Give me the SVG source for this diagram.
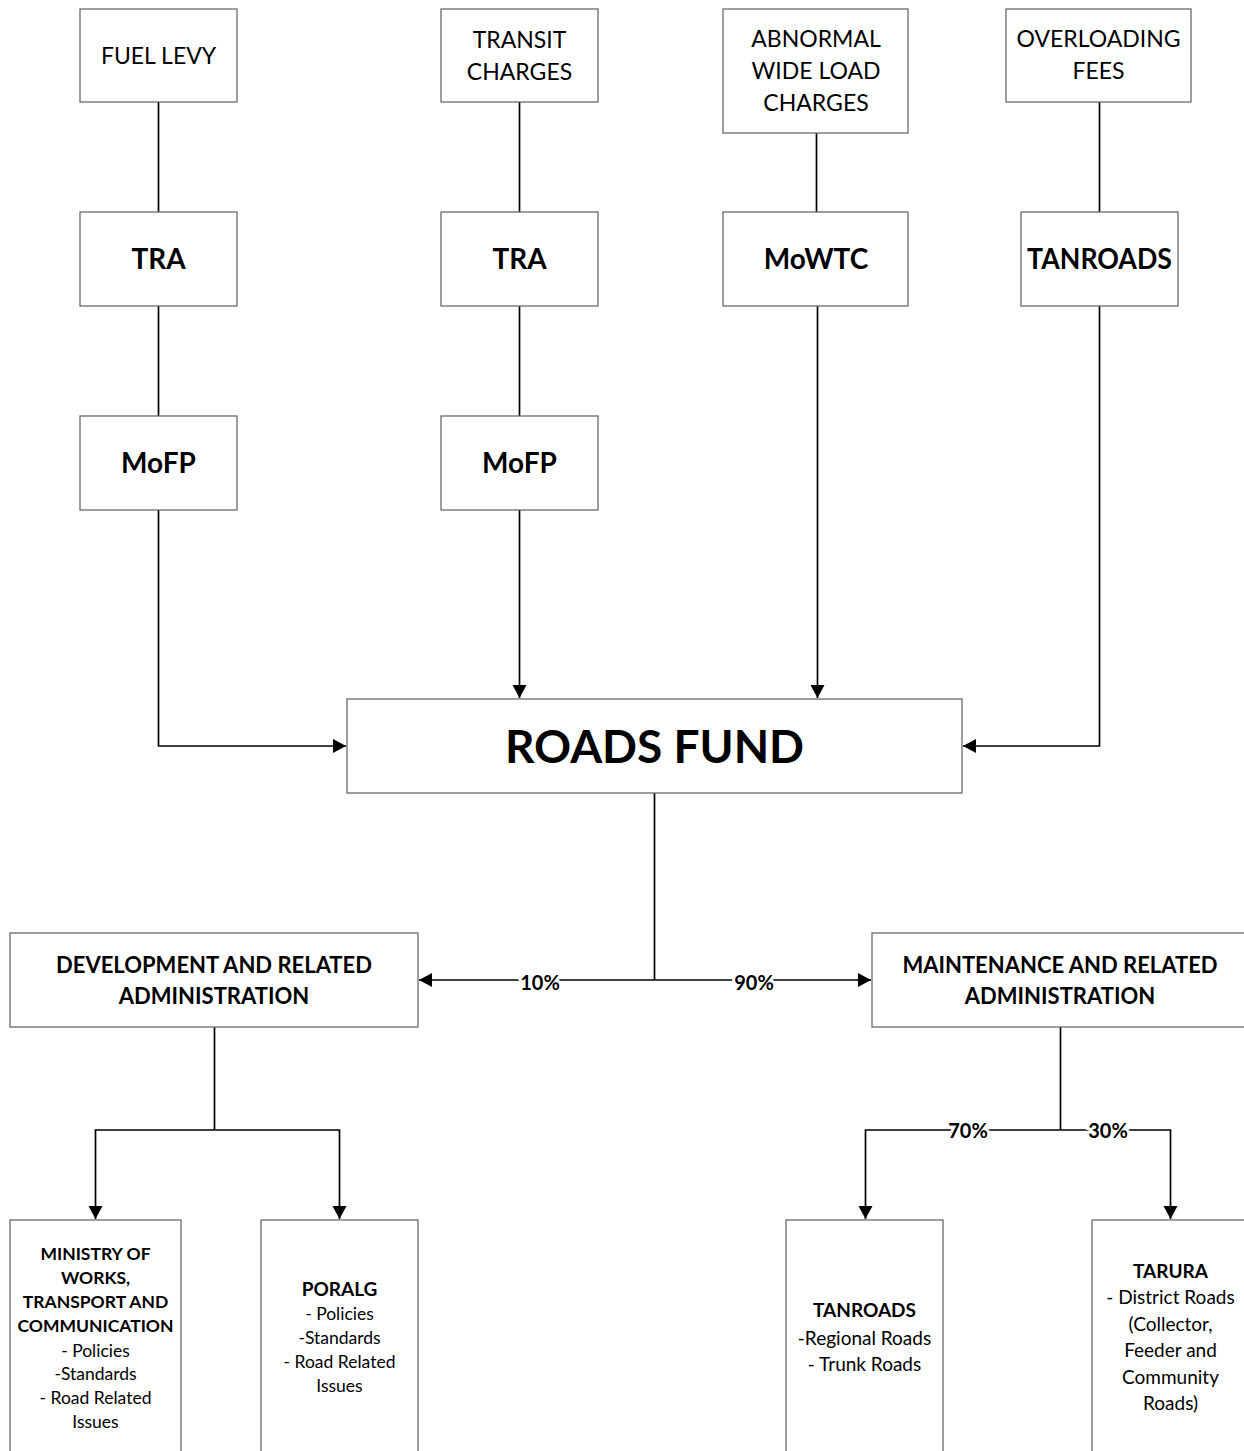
<svg xmlns="http://www.w3.org/2000/svg" width="1244" height="1451" viewBox="0 0 1244 1451">
<style>
.box{fill:#fff;stroke:#6a6a6a;stroke-width:1.3}
.ln{fill:none;stroke:#000;stroke-width:1.7}
text{font-family:Lato,"Open Sans","Liberation Sans",sans-serif;fill:#000;text-anchor:middle}
.r{font-size:23px}
.b{font-size:28px;font-weight:bold}
.big{font-size:46px;font-weight:bold}
.mid{font-size:22px;font-weight:bold}
.pct{font-size:20px;font-weight:bold;stroke:#fff;stroke-width:6;paint-order:stroke}
.sb{font-size:17.5px;font-weight:bold}
.sr{font-size:17.5px}
.tb{font-size:19px;font-weight:bold}
.tr{font-size:19px}
</style>
<defs>
<marker id="ah" markerUnits="userSpaceOnUse" markerWidth="15" markerHeight="15" refX="13" refY="7" orient="auto">
<path d="M0,0 L13,7 L0,14 z" fill="#000"/>
</marker>
</defs>
<rect width="1244" height="1451" fill="#fff"/>
<g id="connectors">
<path class="ln" d="M158.5,102 V212"/>
<path class="ln" d="M158.5,306 V416"/>
<path class="ln" d="M158.5,510 V746 H346" marker-end="url(#ah)"/>
<path class="ln" d="M519.5,102 V212"/>
<path class="ln" d="M519.5,306 V416"/>
<path class="ln" d="M519.5,510 V698" marker-end="url(#ah)"/>
<path class="ln" d="M816.5,133 V212"/>
<path class="ln" d="M817.5,306 V698" marker-end="url(#ah)"/>
<path class="ln" d="M1099.5,102 V212"/>
<path class="ln" d="M1099.5,306 V746 H963" marker-end="url(#ah)"/>
<path class="ln" d="M654.5,793 V980"/>
<path class="ln" d="M654.5,980 H419" marker-end="url(#ah)"/>
<path class="ln" d="M654.5,980 H871" marker-end="url(#ah)"/>
<text class="pct" x="540" y="990">10%</text>
<text class="pct" x="754" y="990">90%</text>
<path class="ln" d="M214.5,1027 V1130"/>
<path class="ln" d="M214.5,1130 H95.5 V1219" marker-end="url(#ah)"/>
<path class="ln" d="M214.5,1130 H339.5 V1219" marker-end="url(#ah)"/>
<path class="ln" d="M1060.5,1027 V1130"/>
<path class="ln" d="M1060.5,1130 H865.5 V1219" marker-end="url(#ah)"/>
<path class="ln" d="M1060.5,1130 H1170.5 V1219" marker-end="url(#ah)"/>
<text class="pct" x="968" y="1138">70%</text>
<text class="pct" x="1108" y="1138">30%</text>
</g>
<g id="fuel-levy"><rect class="box" x="80" y="9" width="157" height="93"/><text class="r" x="158.5" y="64">FUEL LEVY</text></g>
<g id="transit-charges"><rect class="box" x="441" y="9" width="157" height="93"/><text class="r" x="519.5" y="48">TRANSIT</text><text class="r" x="519.5" y="80">CHARGES</text></g>
<g id="abnormal-load"><rect class="box" x="723" y="9" width="185" height="124"/><text class="r" x="816" y="47">ABNORMAL</text><text class="r" x="816" y="79">WIDE LOAD</text><text class="r" x="816" y="111">CHARGES</text></g>
<g id="overloading-fees"><rect class="box" x="1006" y="9" width="185" height="93"/><text class="r" x="1098.5" y="47">OVERLOADING</text><text class="r" x="1098.5" y="79">FEES</text></g>
<g id="tra-1"><rect class="box" x="80" y="212" width="157" height="94"/><text class="b" x="158.5" y="269">TRA</text></g>
<g id="tra-2"><rect class="box" x="441" y="212" width="157" height="94"/><text class="b" x="519.5" y="269">TRA</text></g>
<g id="mowtc"><rect class="box" x="723" y="212" width="185" height="94"/><text class="b" x="816" y="269">MoWTC</text></g>
<g id="tanroads-top"><rect class="box" x="1021" y="212" width="157" height="94"/><text class="b" x="1099.5" y="269" textLength="145" lengthAdjust="spacingAndGlyphs">TANROADS</text></g>
<g id="mofp-1"><rect class="box" x="80" y="416" width="157" height="94"/><text class="b" x="158.5" y="473">MoFP</text></g>
<g id="mofp-2"><rect class="box" x="441" y="416" width="157" height="94"/><text class="b" x="519.5" y="473">MoFP</text></g>
<g id="roads-fund"><rect class="box" x="347" y="699" width="615" height="94"/><text class="big" x="654.5" y="763">ROADS FUND</text></g>
<g id="development"><rect class="box" x="10" y="933" width="408" height="94"/><text class="mid" x="214" y="973">DEVELOPMENT AND RELATED</text><text class="mid" x="214" y="1004">ADMINISTRATION</text></g>
<g id="maintenance"><rect class="box" x="872" y="933" width="380" height="94"/><text class="mid" x="1060" y="973">MAINTENANCE AND RELATED</text><text class="mid" x="1060" y="1004">ADMINISTRATION</text></g>
<g id="ministry"><rect class="box" x="10" y="1220" width="171" height="240"/>
<text class="sb" x="95.5" y="1260">MINISTRY OF</text><text class="sb" x="95.5" y="1284">WORKS,</text><text class="sb" x="95.5" y="1308">TRANSPORT AND</text><text class="sb" x="95.5" y="1332">COMMUNICATION</text>
<text class="sr" x="95.5" y="1357">- Policies</text><text class="sr" x="95.5" y="1380">-Standards</text><text class="sr" x="95.5" y="1404">- Road Related</text><text class="sr" x="95.5" y="1428">Issues</text></g>
<g id="poralg"><rect class="box" x="261" y="1220" width="157" height="240"/>
<text class="tb" x="339.5" y="1296">PORALG</text><text class="sr" x="339.5" y="1320">- Policies</text><text class="sr" x="339.5" y="1344">-Standards</text><text class="sr" x="339.5" y="1368">- Road Related</text><text class="sr" x="339.5" y="1392">Issues</text></g>
<g id="tanroads-bottom"><rect class="box" x="786" y="1220" width="157" height="240"/>
<text class="tb" x="864.5" y="1317">TANROADS</text><text class="tr" x="864.5" y="1345">-Regional Roads</text><text class="tr" x="864.5" y="1371">- Trunk Roads</text></g>
<g id="tarura"><rect class="box" x="1092" y="1220" width="160" height="240"/>
<text class="tb" x="1170.5" y="1278">TARURA</text><text class="tr" x="1170.5" y="1304">- District Roads</text><text class="tr" x="1170.5" y="1331">(Collector,</text><text class="tr" x="1170.5" y="1357">Feeder and</text><text class="tr" x="1170.5" y="1384">Community</text><text class="tr" x="1170.5" y="1410">Roads)</text></g>
</svg>
